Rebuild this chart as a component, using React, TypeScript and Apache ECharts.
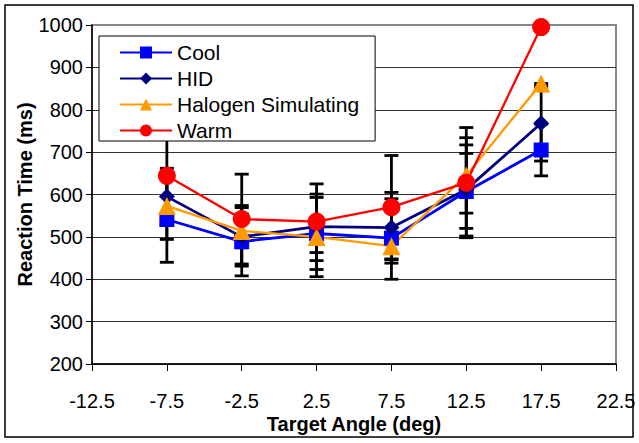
import React, { useEffect, useRef } from "react";
import * as echarts from "echarts";

const angles = [-7.5, -2.5, 2.5, 7.5, 12.5, 17.5];
const xTicks = { min: -12.5, max: 22.5, interval: 5 };
const yTicks = { min: 200, max: 1000, interval: 100 };

const seriesNames = ["Cool", "HID", "Halogen Simulating", "Warm"];
const cool = [541, 489, 508, 497, 607, 705];
const hid = [595, 500, 524, 522, 612, 768];
const halogen = [573, 514, 500, 478, 645, 862];
const warm = [644, 542, 536, 570, 628, 995];

// error bar ends [low, high] per point (null = not visible)
const coolErr: ([number, number] | null)[] = [[440, 642], [408, 574], [423, 593], [400, 590], [498, 717], [644, 766]];
const hidErr: ([number, number] | null)[] = [[528, 662], [431, 569], [444, 601], [438, 605], [520, 697], [679, 857]];
const halogenErr: ([number, number] | null)[] = [[494, 652], [474, 554], [463, 537], [448, 508], [556, 734], [850, 862]];
const warmErr: ([number, number] | null)[] = [[534, 760], [436, 648], [406, 625], [446, 692], [502, 758], null];

const FONT = "Liberation Sans, Arial, sans-serif";

export default function App() {
  const ref = useRef<HTMLDivElement>(null);
  useEffect(() => {
    document.body.style.margin = "0";
    const chart = echarts.init(ref.current!, undefined, { renderer: "svg" });
    const pts = (vals: number[]) => angles.map((a, i) => [a, vals[i]]);
    const errData: number[][] = [];
    [coolErr, hidErr, halogenErr, warmErr].forEach((arr) =>
      arr.forEach((e, i) => {
        if (e) errData.push([angles[i], e[0], e[1]]);
      })
    );
    const splitColors = ["#333", "#333", "#333", "#333", "#333", "#333", "#333", "#333", "#888"];
    const lineSeries = (name: string, vals: number[], color: string, symbol: string, size: number, w: number) => ({
      name,
      type: "line",
      data: pts(vals),
      symbol,
      symbolSize: size,
      itemStyle: { color },
      lineStyle: { color, width: w },
      z: 3,
    });
    chart.setOption({
      animation: false,
      textStyle: { fontFamily: FONT },
      grid: {
        left: 92,
        right: 23,
        top: 25,
        bottom: 79,
        show: true,
        borderColor: "#888",
        borderWidth: 2,
        backgroundColor: "transparent",
      },
      graphic: [
        {
          type: "rect",
          shape: { x: 5, y: 5, width: 628, height: 432 },
          style: { fill: "none", stroke: "#000", lineWidth: 1.5 },
          z: 0,
        },
      ],
      legend: {
        orient: "vertical",
        left: 99,
        top: 36,
        data: seriesNames,
        backgroundColor: "#fff",
        borderColor: "#000",
        borderWidth: 1,
        padding: [6, 16, 0, 20],
        itemWidth: 52,
        itemHeight: 15,
        itemGap: 5,
        textStyle: { fontSize: 21, color: "#000", fontFamily: FONT },
        z: 10,
      },
      xAxis: {
        type: "value",
        min: xTicks.min,
        max: xTicks.max,
        interval: xTicks.interval,
        name: "Target Angle (deg)",
        nameLocation: "middle",
        nameGap: 50,
        nameMoveOverlap: false,
        nameTextStyle: { fontSize: 20, fontWeight: "bold", color: "#000", fontFamily: FONT },
        axisLine: { show: true, onZero: false, lineStyle: { color: "#000", width: 1.5 } },
        axisTick: { show: true, length: 7, lineStyle: { color: "#000" } },
        axisLabel: { fontSize: 20, color: "#000", margin: 27, fontFamily: FONT },
        splitLine: { show: false },
      },
      yAxis: {
        type: "value",
        min: yTicks.min,
        max: yTicks.max,
        interval: yTicks.interval,
        name: "Reaction Time (ms)",
        nameLocation: "middle",
        nameGap: 57,
        nameMoveOverlap: false,
        nameTextStyle: { fontSize: 20, fontWeight: "bold", color: "#000", fontFamily: FONT },
        axisLine: { show: true, onZero: false, lineStyle: { color: "#000", width: 1.5 } },
        axisTick: { show: true, length: 6, lineStyle: { color: "#000" } },
        axisLabel: { fontSize: 20, color: "#000", margin: 9, fontFamily: FONT, formatter: (v: number) => String(v) },
        splitLine: { show: true, lineStyle: { color: splitColors, width: 1 } },
      },
      series: [
        {
          type: "custom",
          name: "err",
          z: 1,
          data: errData,
          renderItem: (params: any, api: any) => {
            const x = api.value(0);
            const lo = api.coord([x, api.value(1)]);
            const hi = api.coord([x, api.value(2)]);
            const hw = 7;
            const style = { stroke: "#000", lineWidth: 2.8 };
            return {
              type: "group",
              children: [
                { type: "line", shape: { x1: lo[0], y1: lo[1], x2: hi[0], y2: hi[1] }, style },
                { type: "line", shape: { x1: lo[0] - hw, y1: lo[1], x2: lo[0] + hw, y2: lo[1] }, style },
                { type: "line", shape: { x1: hi[0] - hw, y1: hi[1], x2: hi[0] + hw, y2: hi[1] }, style },
              ],
            };
          },
        },
        lineSeries("Cool", cool, "#0000FF", "rect", 15, 2.8),
        lineSeries("HID", hid, "#000080", "diamond", 16, 2.8),
        lineSeries("Halogen Simulating", halogen, "#FF9900", "triangle", 18, 2.3),
        lineSeries("Warm", warm, "#FF0000", "circle", 18, 2.3),
      ],
    });
    return () => chart.dispose();
  }, []);
  return <div ref={ref} style={{ width: 639, height: 443, position: "absolute", left: 0, top: 0 }} />;
}
